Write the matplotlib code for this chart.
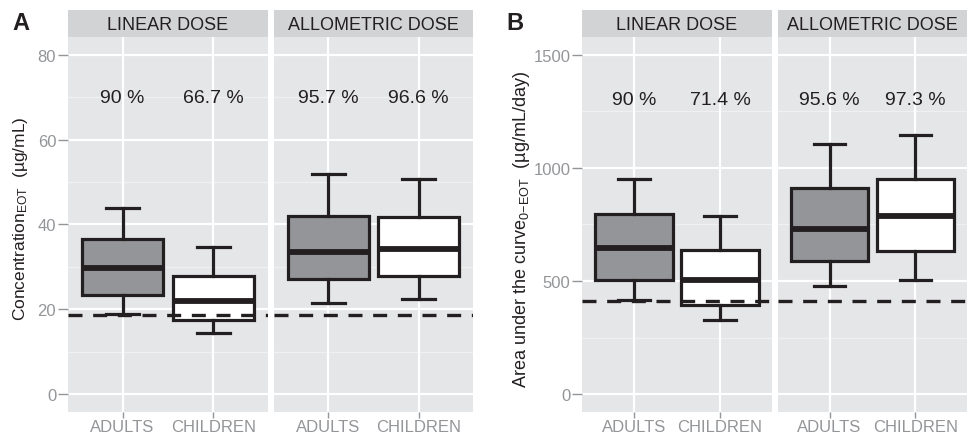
import matplotlib
matplotlib.use("Agg")
import matplotlib.pyplot as plt

plt.rcParams['font.family'] = ['Liberation Sans', 'DejaVu Sans']
plt.rcParams['mathtext.fontset'] = 'custom'
plt.rcParams['mathtext.rm'] = 'Liberation Sans'
plt.rcParams['mathtext.it'] = 'Liberation Sans'

# ---- data ----
categories = ['ADULTS', 'CHILDREN']
facets = ['LINEAR DOSE', 'ALLOMETRIC DOSE']

# [whisker low, q1, median, q3, whisker high] per facet, per category
conc_linear = [[18.9, 23.3, 29.6, 36.5, 43.9], [14.3, 17.5, 21.9, 27.8, 34.6]]
conc_allometric = [[21.5, 27.1, 33.4, 42.0, 51.8], [22.3, 27.8, 34.2, 41.7, 50.7]]
conc_threshold = 18.7
conc_pct_linear = [90, 66.7]
conc_pct_allometric = [95.7, 96.6]
conc_yticks = [0, 20, 40, 60, 80]

auc_linear = [[415, 506, 646, 796, 951], [327, 395, 504, 639, 786]]
auc_allometric = [[477, 587, 729, 911, 1105], [504, 634, 786, 951, 1146]]
auc_threshold = 413
auc_pct_linear = [90, 71.4]
auc_pct_allometric = [95.6, 97.3]
auc_yticks = [0, 500, 1000, 1500]

# ---- style ----
W, H = 968, 439
PANEL_BG = '#E5E6E7'
STRIP_BG = '#D2D3D5'
LINE = '#231F20'
TICKC = '#939598'
ADULT_FILL = '#939598'
FILLS = [ADULT_FILL, 'white']

fig = plt.figure(figsize=(W / 100, H / 100), dpi=100)


def add_ax(x0, x1, y0, y1):
    return fig.add_axes([x0 / W, 1 - y1 / H, (x1 - x0) / W, (y1 - y0) / H])


def fmt_pct(v):
    return ('%g' % v) + ' %'


def draw_facet(x0, x1, title, stats, pct, thr, ylim, yticks, label_y, show_y):
    top, bottom = 38, 412.7
    sax = add_ax(x0, x1, 11, top)
    sax.set_facecolor(STRIP_BG)
    sax.set_xticks([]); sax.set_yticks([])
    for s in sax.spines.values():
        s.set_visible(False)
    sax.text(0.5, 0.45, title, ha='center', va='center', fontsize=13,
             color='#231F20', transform=sax.transAxes)

    ax = add_ax(x0, x1, top, bottom)
    ax.set_facecolor(PANEL_BG)
    for s in ax.spines.values():
        s.set_visible(False)
    pos = list(range(1, len(categories) + 1))
    ax.set_xlim(0.4, len(categories) + 0.6)
    ax.set_ylim(*ylim)
    # grid
    step = yticks[1] - yticks[0]
    minors = [t + step / 2 for t in [yticks[0] - step] + yticks]
    for m in minors:
        ax.axhline(m, color='#F0F0F1', lw=0.9, zorder=0.5)
    for t in yticks:
        ax.axhline(t, color='white', lw=1.6, zorder=0.6)
    for p in pos:
        ax.axvline(p, color='white', lw=1.6, zorder=0.6)

    bstats = []
    for c, st in zip(categories, stats):
        bstats.append(dict(label=c, whislo=st[0], q1=st[1], med=st[2],
                           q3=st[3], whishi=st[4], fliers=[]))
    bp = ax.bxp(bstats, positions=pos, widths=0.9, capwidths=0.37,
                patch_artist=True, showfliers=False,
                boxprops=dict(edgecolor=LINE, linewidth=2.3),
                whiskerprops=dict(color=LINE, linewidth=2.3),
                capprops=dict(color=LINE, linewidth=2.3),
                medianprops=dict(color=LINE, linewidth=4.2,
                                 solid_capstyle='butt'))
    for patch, f in zip(bp['boxes'], FILLS):
        patch.set_facecolor(f)
        patch.set_zorder(2)
    for k in ('whiskers', 'caps', 'medians'):
        for ln in bp[k]:
            ln.set_zorder(2.5)

    ax.axhline(thr, color=LINE, lw=2.4, dashes=(4.2, 3.2), zorder=3)

    for p, v in zip(pos, pct):
        ax.text(p, label_y, fmt_pct(v), ha='center', va='center',
                fontsize=14, color='#231F20')

    ax.set_xticks(pos)
    ax.set_xticklabels(categories)
    ax.tick_params(axis='x', length=4, width=1, color=TICKC, labelcolor=TICKC,
                   labelsize=12, pad=1)
    ax.set_yticks(yticks)
    if show_y:
        ax.tick_params(axis='y', length=7, width=1, color=TICKC,
                       labelcolor=TICKC, labelsize=12, pad=1.5)
    else:
        ax.tick_params(axis='y', length=0, labelleft=False)
    return ax


# Panel A
draw_facet(68, 268, facets[0], conc_linear, conc_pct_linear,
           conc_threshold, (-4.2, 84.2), conc_yticks, 70, True)
draw_facet(274, 473, facets[1], conc_allometric, conc_pct_allometric,
           conc_threshold, (-4.2, 84.2), conc_yticks, 70, False)
fig.text(21 / W, 1 - 219 / H, r'Concentration$_{\mathrm{EOT}}$  (µg/mL)',
         rotation=90, ha='center', va='center', fontsize=12.5, color='#231F20')
fig.text(12 / W, 1 - 24 / H, 'A', fontsize=17, fontweight='bold',
         ha='left', va='center', color='#231F20')

# Panel B
draw_facet(582.3, 771.7, facets[0], auc_linear, auc_pct_linear,
           auc_threshold, (-78.3, 1579.6), auc_yticks, 1305, True)
draw_facet(778, 967, facets[1], auc_allometric, auc_pct_allometric,
           auc_threshold, (-78.3, 1579.6), auc_yticks, 1305, False)
fig.text(521 / W, 1 - 229 / H,
         r'Area under the curve$_{\mathrm{0\!-\!EOT}}$  (µg/mL/day)',
         rotation=90, ha='center', va='center', fontsize=13, color='#231F20')
fig.text(506 / W, 1 - 24 / H, 'B', fontsize=17, fontweight='bold',
         ha='left', va='center', color='#231F20')

fig.savefig('out.png', dpi=100)
